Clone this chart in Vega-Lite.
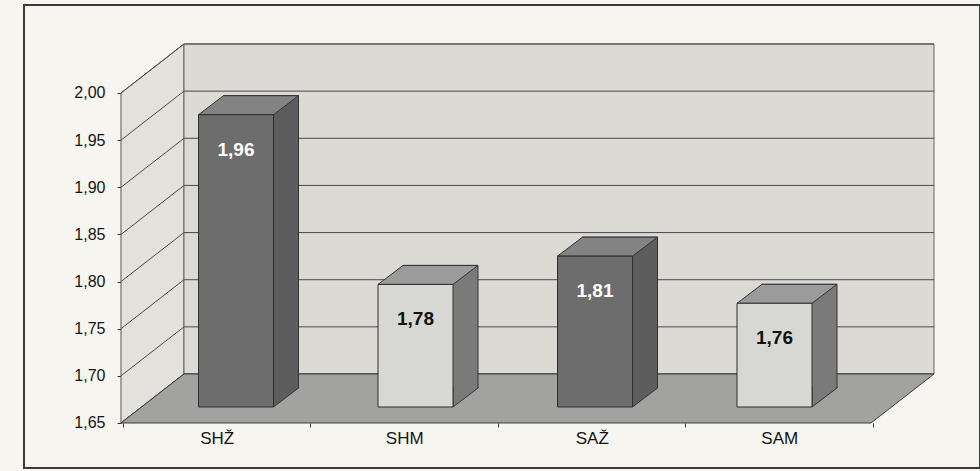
{
  "$schema": "https://vega.github.io/schema/vega-lite/v6.json",
  "width": 956,
  "height": 463,
  "autosize": "none",
  "padding": {"left": 24, "top": 5, "right": 0, "bottom": 3},
  "background": "#f6f5ef",
  "config": {
    "view": {"stroke": "#3a3a3a", "strokeWidth": 2},
    "locale": {"number": {"decimal": ",", "thousands": ".", "grouping": [3], "currency": ["", ""]}},
    "axis": {"labelFont": "Liberation Sans, Arial, sans-serif", "labelColor": "#151515", "tickColor": "#333333", "domain": false, "grid": false}
  },
  "datasets": {
    "bars": [
      {"cat": "SHŽ", "value": 1.96, "spol": "Ž"},
      {"cat": "SHM", "value": 1.78, "spol": "M"},
      {"cat": "SAŽ", "value": 1.81, "spol": "Ž"},
      {"cat": "SAM", "value": 1.76, "spol": "M"}
    ],
    "ticks": [
      {"v": 1.65}, {"v": 1.70}, {"v": 1.75}, {"v": 1.80},
      {"v": 1.85}, {"v": 1.90}, {"v": 1.95}, {"v": 2.00}
    ]
  },
  "resolve": {"scale": {"x": "independent"}},
  "layer": [
    {
      "data": {"values": [{"wall": "side"}]},
      "mark": {"type": "point", "shape": "M0,0 L0,-330 L63,-379 L63,-49 Z", "size": 4, "filled": true, "opacity": 1, "fill": "#e2e1db", "stroke": "#555555", "strokeWidth": 1, "xOffset": -2},
      "encoding": {
        "x": {"datum": "SHŽ", "type": "nominal", "bandPosition": 0,
              "scale": {"type": "band", "domain": ["SHŽ", "SHM", "SAŽ", "SAM"], "paddingInner": 0, "paddingOuter": 0.54933, "align": 0.48058},
              "axis": {"title": null, "tickBand": "extent", "offset": -45, "domain": false, "tickSize": 4, "labelPadding": 3, "labelFontSize": 17, "labelAngle": 0, "grid": false}},
        "y": {"datum": 1.65, "type": "quantitative",
              "scale": {"domain": [1.60227, 2.09333], "nice": false, "zero": false},
              "axis": {"title": null, "values": [1.65, 1.7, 1.75, 1.8, 1.85, 1.9, 1.95, 2.0], "format": ".2f", "offset": -97, "tickSize": 4, "labelPadding": 12, "labelFontSize": 16, "domain": false, "grid": false}}
      }
    },
    {
      "data": {"values": [{"wall": "back"}]},
      "mark": {"type": "point", "shape": "M63,-49 L63,-379 L813,-379 L813,-49 Z", "size": 4, "filled": true, "opacity": 1, "fill": "#dbdad4", "stroke": "#666666", "strokeWidth": 1, "xOffset": -2},
      "encoding": {
        "x": {"datum": "SHŽ", "type": "nominal", "bandPosition": 0,
              "scale": {"type": "band", "domain": ["SHŽ", "SHM", "SAŽ", "SAM"], "paddingInner": 0, "paddingOuter": 0.54933, "align": 0.48058},
              "axis": null},
        "y": {"datum": 1.65, "type": "quantitative",
              "axis": {"title": null, "values": [1.65, 1.7, 1.75, 1.8, 1.85, 1.9, 1.95, 2.0], "format": ".2f", "offset": -97, "tickSize": 4, "labelPadding": 12, "labelFontSize": 16, "domain": false, "grid": false}}
      }
    },
    {
      "data": {"name": "ticks"},
      "mark": {"type": "point", "shape": "M0,0 L63,-49 L813,-49", "size": 4, "filled": false, "opacity": 1, "stroke": "#4a4a4a", "strokeWidth": 1, "xOffset": -2},
      "encoding": {
        "x": {"datum": "SHŽ", "type": "nominal", "bandPosition": 0,
              "scale": {"type": "band", "domain": ["SHŽ", "SHM", "SAŽ", "SAM"], "paddingInner": 0, "paddingOuter": 0.54933, "align": 0.48058},
              "axis": null},
        "y": {"field": "v", "type": "quantitative",
              "axis": {"title": null, "values": [1.65, 1.7, 1.75, 1.8, 1.85, 1.9, 1.95, 2.0], "format": ".2f", "offset": -97, "tickSize": 4, "labelPadding": 12, "labelFontSize": 16, "domain": false, "grid": false}}
      }
    },
    {
      "data": {"values": [{"wall": "floor"}]},
      "mark": {"type": "point", "shape": "M0,0 L750,0 L813,-49 L63,-49 Z", "size": 4, "filled": true, "opacity": 1, "fill": "#a2a2a0", "stroke": "#3c3c3c", "strokeWidth": 1, "xOffset": -2},
      "encoding": {
        "x": {"datum": "SHŽ", "type": "nominal", "bandPosition": 0,
              "scale": {"type": "band", "domain": ["SHŽ", "SHM", "SAŽ", "SAM"], "paddingInner": 0, "paddingOuter": 0.54933, "align": 0.48058},
              "axis": null},
        "y": {"datum": 1.65, "type": "quantitative",
              "axis": {"title": null, "values": [1.65, 1.7, 1.75, 1.8, 1.85, 1.9, 1.95, 2.0], "format": ".2f", "offset": -97, "tickSize": 4, "labelPadding": 12, "labelFontSize": 16, "domain": false, "grid": false}}
      }
    },
    {
      "data": {"name": "bars"},
      "mark": {"type": "bar", "width": 75, "xOffset": 25, "yOffset": -35, "y2Offset": -35, "stroke": "#333333", "strokeWidth": 1},
      "encoding": {
        "x": {"field": "cat", "type": "nominal", "sort": null,
              "scale": {"type": "band", "domain": ["SHŽ", "SHM", "SAŽ", "SAM"], "paddingInner": 0, "paddingOuter": 0.66295, "align": 0.51366},
              "axis": null},
        "y": {"field": "value", "type": "quantitative",
              "axis": {"title": null, "values": [1.65, 1.7, 1.75, 1.8, 1.85, 1.9, 1.95, 2.0], "format": ".2f", "offset": -97, "tickSize": 4, "labelPadding": 12, "labelFontSize": 16, "domain": false, "grid": false}},
        "y2": {"datum": 1.65},
        "fill": {"condition": {"test": "datum.spol === 'Ž'", "value": "#5d5d5d"}, "value": "#7a7a7a"}
      }
    },
    {
      "data": {"name": "bars"},
      "mark": {"type": "point", "shape": "M0,-20 L0,0 L25,-19 L25,-20", "size": 4, "filled": true, "opacity": 1, "xOffset": 37.5, "yOffset": -16, "stroke": "#333333", "strokeWidth": 1},
      "encoding": {
        "x": {"field": "cat", "type": "nominal", "sort": null,
              "scale": {"type": "band", "domain": ["SHŽ", "SHM", "SAŽ", "SAM"], "paddingInner": 0, "paddingOuter": 0.66295, "align": 0.51366},
              "axis": null},
        "y": {"datum": 1.65, "type": "quantitative",
              "axis": {"title": null, "values": [1.65, 1.7, 1.75, 1.8, 1.85, 1.9, 1.95, 2.0], "format": ".2f", "offset": -97, "tickSize": 4, "labelPadding": 12, "labelFontSize": 16, "domain": false, "grid": false}},
        "fill": {"condition": {"test": "datum.spol === 'Ž'", "value": "#5d5d5d"}, "value": "#7a7a7a"}
      }
    },
    {
      "data": {"name": "bars"},
      "mark": {"type": "point", "shape": "M-37.5,0 L-12.5,-19 L62.5,-19 L37.5,0 Z", "size": 4, "filled": true, "opacity": 1, "yOffset": -16, "stroke": "#333333", "strokeWidth": 1},
      "encoding": {
        "x": {"field": "cat", "type": "nominal", "sort": null,
              "scale": {"type": "band", "domain": ["SHŽ", "SHM", "SAŽ", "SAM"], "paddingInner": 0, "paddingOuter": 0.66295, "align": 0.51366},
              "axis": null},
        "y": {"field": "value", "type": "quantitative",
              "axis": {"title": null, "values": [1.65, 1.7, 1.75, 1.8, 1.85, 1.9, 1.95, 2.0], "format": ".2f", "offset": -97, "tickSize": 4, "labelPadding": 12, "labelFontSize": 16, "domain": false, "grid": false}},
        "fill": {"condition": {"test": "datum.spol === 'Ž'", "value": "#838383"}, "value": "#9b9b9b"}
      }
    },
    {
      "data": {"name": "bars"},
      "mark": {"type": "bar", "width": 75, "yOffset": -16, "y2Offset": -16, "stroke": "#2e2e2e", "strokeWidth": 1},
      "encoding": {
        "x": {"field": "cat", "type": "nominal", "sort": null,
              "scale": {"type": "band", "domain": ["SHŽ", "SHM", "SAŽ", "SAM"], "paddingInner": 0, "paddingOuter": 0.66295, "align": 0.51366},
              "axis": null},
        "y": {"field": "value", "type": "quantitative",
              "axis": {"title": null, "values": [1.65, 1.7, 1.75, 1.8, 1.85, 1.9, 1.95, 2.0], "format": ".2f", "offset": -97, "tickSize": 4, "labelPadding": 12, "labelFontSize": 16, "domain": false, "grid": false}},
        "y2": {"datum": 1.65},
        "fill": {"condition": {"test": "datum.spol === 'Ž'", "value": "#6d6d6d"}, "value": "#d7d7d3"}
      }
    },
    {
      "data": {"name": "bars"},
      "mark": {"type": "text", "yOffset": 19, "font": "Liberation Sans, Arial, sans-serif", "fontSize": 19, "fontWeight": "bold", "baseline": "middle", "align": "center"},
      "encoding": {
        "x": {"field": "cat", "type": "nominal", "sort": null,
              "scale": {"type": "band", "domain": ["SHŽ", "SHM", "SAŽ", "SAM"], "paddingInner": 0, "paddingOuter": 0.66295, "align": 0.51366},
              "axis": null},
        "y": {"field": "value", "type": "quantitative",
              "axis": {"title": null, "values": [1.65, 1.7, 1.75, 1.8, 1.85, 1.9, 1.95, 2.0], "format": ".2f", "offset": -97, "tickSize": 4, "labelPadding": 12, "labelFontSize": 16, "domain": false, "grid": false}},
        "text": {"field": "value", "type": "quantitative", "format": ".2f"},
        "fill": {"condition": {"test": "datum.spol === 'Ž'", "value": "#ffffff"}, "value": "#111111"}
      }
    }
  ]
}
